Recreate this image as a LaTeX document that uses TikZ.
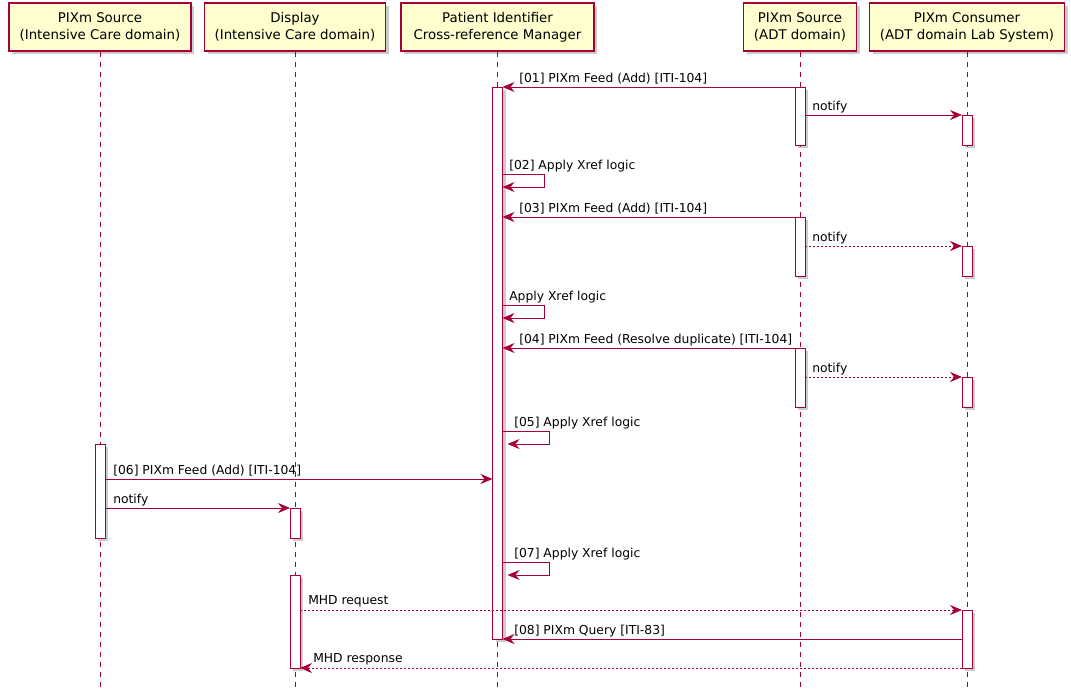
\documentclass[tikz,border=0pt]{standalone}
\usepackage{fontspec}
\setmainfont{DejaVu Sans}
\usepackage{xcolor}
\definecolor{crimson}{HTML}{A80036}
\definecolor{pale}{HTML}{FEFECE}
\usetikzlibrary{arrows.meta,shadows}

\begin{document}
\begin{tikzpicture}[x=0.75pt,y=-0.75pt,
    actor/.style={draw=crimson, fill=pale, line width=1.1pt, minimum height=36pt,
        align=center, inner sep=0pt, font=\fontsize{10}{12.75}\selectfont,
        drop shadow={shadow xshift=2.5pt, shadow yshift=-2.5pt, opacity=0.4}},
    lifeline/.style={crimson, line width=0.75pt, dash pattern=on 3.75pt off 3.75pt},
    actbar/.style={draw=crimson, fill=white, line width=0.75pt, minimum width=7.5pt,
        inner sep=0pt, outer sep=0pt, anchor=north,
        drop shadow={shadow xshift=2.5pt, shadow yshift=-2.5pt, opacity=0.4}},
    msg/.style={crimson, line width=0.75pt, -{Stealth[length=9pt,width=7.5pt,inset=3pt]}},
    reply/.style={msg, dash pattern=on 1.5pt off 1.5pt},
    lbl/.style={anchor=base west, inner sep=0pt, font=\fontsize{9.25}{11}\selectfont}]
    \useasboundingbox (0,0) rectangle (1071,697);

    \node[actor, minimum width=136.5pt] (icsrc) at (100,27) {PIXm Source\\(Intensive Care domain)};
    \node[actor, minimum width=135.75pt] (icdisp) at (295,27) {Display\\(Intensive Care domain)};
    \node[actor, minimum width=144.75pt] (pixmgr) at (497.5,27) {Patient Identifier\\Cross-reference Manager};
    \node[actor, minimum width=84.75pt] (adtsrc) at (800,27) {PIXm Source\\(ADT domain)};
    \node[actor, minimum width=146.25pt] (labcons) at (967,27) {PIXm Consumer\\(ADT domain Lab System)};

    \draw[lifeline] (icsrc.south) -- (icsrc.south |- 0,687);
    \draw[lifeline] (icdisp.south) -- (icdisp.south |- 0,687);
    \draw[lifeline] (pixmgr.south) -- (pixmgr.south |- 0,687);
    \draw[lifeline] (adtsrc.south) -- (adtsrc.south |- 0,687);
    \draw[lifeline] (labcons.south) -- (labcons.south |- 0,687);

    \node[actbar, minimum height=414pt] (mgrbar) at (497.5,87) {};
    \node[actbar, minimum height=43.5pt] (adtbarA) at (800,87) {};
    \node[actbar, minimum height=44.25pt] (adtbarB) at (800,217) {};
    \node[actbar, minimum height=44.25pt] (adtbarC) at (800,348) {};
    \node[actbar, minimum height=22.5pt] (labbarA) at (967,115) {};
    \node[actbar, minimum height=22.5pt] (labbarB) at (967,246) {};
    \node[actbar, minimum height=22.5pt] (labbarC) at (967,377) {};
    \node[actbar, minimum height=43.5pt] (labbarD) at (967,610) {};
    \node[actbar, minimum height=70.5pt] (icbar) at (100,444) {};
    \node[actbar, minimum height=22.5pt] (dispbarA) at (295,508) {};
    \node[actbar, minimum height=69.75pt] (dispbarB) at (295,575) {};

    \draw[msg] (adtbarA.north west) -- (mgrbar.east |- adtbarA.north);
    \node[lbl] (m01) at (519,82) {[01] PIXm Feed (Add) [ITI-104]};
    \draw[msg] (adtbarA.east |- labbarA.north) -- (labbarA.north west);
    \node[lbl] (n01) at (812,110) {notify};
    \draw[msg] (mgrbar.east |- 0,174) -- ++(42,0) -- ++(0,13) -- ++(-42,0);
    \node[lbl] (m02) at (509,169) {[02] Apply Xref logic};
    \draw[msg] (adtbarB.north west) -- (mgrbar.east |- adtbarB.north);
    \node[lbl] (m03) at (519,212) {[03] PIXm Feed (Add) [ITI-104]};
    \draw[reply] (adtbarB.east |- labbarB.north) -- (labbarB.north west);
    \node[lbl] (n02) at (812,241) {notify};
    \draw[msg] (mgrbar.east |- 0,305) -- ++(42,0) -- ++(0,13) -- ++(-42,0);
    \node[lbl] (mx) at (509,300) {Apply Xref logic};
    \draw[msg] (adtbarC.north west) -- (mgrbar.east |- adtbarC.north);
    \node[lbl] (m04) at (519,343) {[04] PIXm Feed (Resolve duplicate) [ITI-104]};
    \draw[reply] (adtbarC.east |- labbarC.north) -- (labbarC.north west);
    \node[lbl] (n03) at (812,372) {notify};
    \draw[msg] (mgrbar.east |- 0,431) -- ++(47,0) -- ++(0,13) -- ++(-42,0);
    \node[lbl] (m05) at (514,426) {[05] Apply Xref logic};
    \draw[msg] (icbar.east |- 0,479) -- (mgrbar.west |- 0,479);
    \node[lbl] (m06) at (113,474) {[06] PIXm Feed (Add) [ITI-104]};
    \draw[msg] (icbar.east |- dispbarA.north) -- (dispbarA.north west);
    \node[lbl] (n04) at (113,503) {notify};
    \draw[msg] (mgrbar.east |- 0,562) -- ++(47,0) -- ++(0,13) -- ++(-42,0);
    \node[lbl] (m07) at (514,557) {[07] Apply Xref logic};
    \draw[reply] (dispbarB.east |- labbarD.north) -- (labbarD.north west);
    \node[lbl] (r01) at (308,604) {MHD request};
    \draw[msg] (labbarD.west |- mgrbar.south) -- (mgrbar.south east);
    \node[lbl] (m08) at (514,634) {[08] PIXm Query [ITI-83]};
    \draw[reply] (labbarD.south west) -- (dispbarB.south east);
    \node[lbl] (r02) at (313,662) {MHD response};
\end{tikzpicture}
\end{document}
